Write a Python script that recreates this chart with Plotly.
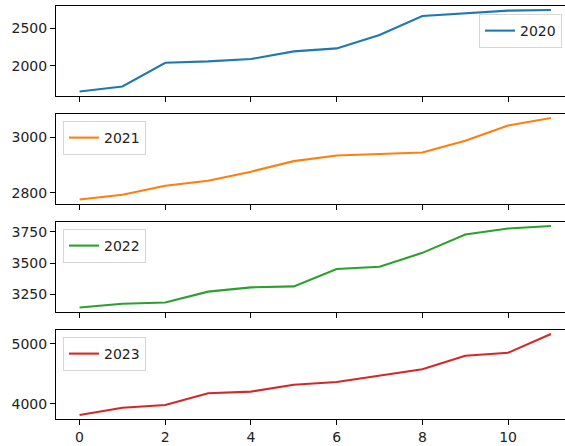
import plotly.graph_objects as go

# ---- data ----
x_index = list(range(12))
years = ["2020", "2021", "2022", "2023"]
values_2020 = [1656, 1723, 2040, 2058, 2089, 2192, 2232, 2411, 2665, 2701, 2738, 2745]
values_2021 = [2776, 2793, 2825, 2843, 2876, 2914, 2934, 2939, 2945, 2987, 3042, 3069]
values_2022 = [3144, 3173, 3184, 3271, 3305, 3313, 3452, 3471, 3582, 3730, 3778, 3797]
values_2023 = [3813, 3934, 3978, 4176, 4203, 4319, 4363, 4473, 4577, 4802, 4852, 5165]
series = [values_2020, values_2021, values_2022, values_2023]
colors = ["#1f77b4", "#ff7f0e", "#2ca02c", "#d62728"]
y_dticks = [500, 200, 250, 1000]
x_tick_step = 2

W, H = 565, 446
ML, MR, MT, MB = 56, 0, 6, 27
plot_h = H - MT - MB           # 413
plot_w = W - ML - MR           # 509
ax_h = 89.5
step = 108

font_family = "DejaVu Sans"
fig = go.Figure()

legend_px = [(479, 14, "left"), (63, 121, "left"), (63, 229, "left"), (63, 337, "left")]

for k, (name, vals, col) in enumerate(zip(years, series, colors)):
    top_px = MT + step * k
    bot_px = top_px + ax_h
    d_top = min(1.0, (MT + plot_h - top_px) / plot_h)
    d_bot = max(0.0, (MT + plot_h - bot_px) / plot_h)
    xa = "x" if k == 0 else f"x{k+1}"
    ya = "y" if k == 0 else f"y{k+1}"
    lg = "legend" if k == 0 else f"legend{k+1}"
    fig.add_trace(go.Scatter(x=x_index, y=vals, mode="lines", name=name,
                             line=dict(color=col, width=2.1),
                             xaxis=xa, yaxis=ya, legend=lg))
    lo, hi = min(vals), max(vals)
    pad = 0.05 * (hi - lo)
    last = (k == 3)
    xkey = "xaxis" if k == 0 else f"xaxis{k+1}"
    ykey = "yaxis" if k == 0 else f"yaxis{k+1}"
    fig.update_layout(**{
        xkey: dict(domain=[0, 1], anchor=ya, range=[-0.55, -0.55 + plot_w / 42.85],
                   tickmode="linear", tick0=0, dtick=x_tick_step,
                   showticklabels=last, ticks="outside", ticklen=5, tickwidth=1.1,
                   tickcolor="black", showline=True, linecolor="black", linewidth=1.1,
                   mirror=True, showgrid=False, zeroline=False,
                   tickfont=dict(family=font_family, size=14, color="#222")),
        ykey: dict(domain=[d_bot, d_top], anchor=xa, range=[lo - pad, hi + pad],
                   tickmode="linear", tick0=0, dtick=y_dticks[k],
                   ticks="outside", ticklen=5, tickwidth=1.1, tickcolor="black",
                   showline=True, linecolor="black", linewidth=1.1, mirror=False,
                   showgrid=False, zeroline=False,
                   tickfont=dict(family=font_family, size=14, color="#222")),
    })
    lx, ly, anc = legend_px[k]
    fig.update_layout(**{
        lg: dict(x=(lx - ML) / plot_w, y=(MT + plot_h - ly) / plot_h,
                 xanchor=anc, yanchor="top", bgcolor="rgba(255,255,255,0.8)",
                 bordercolor="#d6d6d6", borderwidth=1,
                 font=dict(family=font_family, size=14, color="#222"))
    })

fig.update_layout(width=W, height=H, margin=dict(l=ML, r=MR, t=MT, b=MB),
                  plot_bgcolor="white", paper_bgcolor="white", showlegend=True)

fig.write_html("out.html")
